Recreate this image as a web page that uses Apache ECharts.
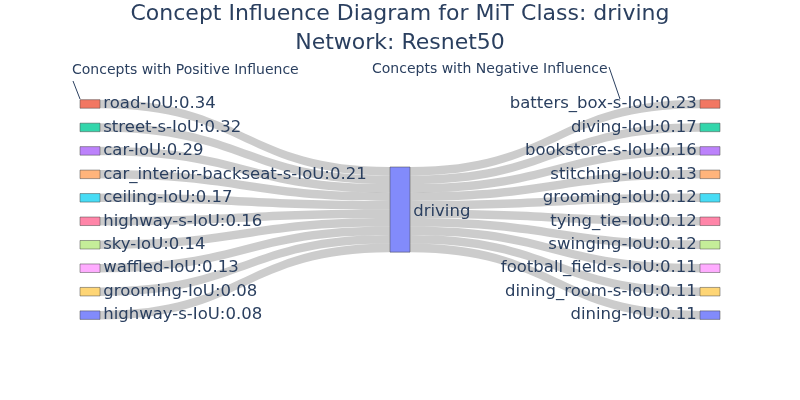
<!DOCTYPE html>
<html>
<head>
<meta charset="utf-8">
<script src="https://cdn.jsdelivr.net/npm/echarts@6/dist/echarts.min.js"></script>
<style>
  html, body { margin: 0; padding: 0; background: #fff; }
  #main { width: 800px; height: 400px; }
</style>
</head>
<body>
<div id="main"></div>
<script>
const myChart = echarts.init(document.querySelector('#main'))

// data
const className = 'driving'
const posConcepts = ['road-IoU:0.34', 'street-s-IoU:0.32', 'car-IoU:0.29', 'car_interior-backseat-s-IoU:0.21',
  'ceiling-IoU:0.17', 'highway-s-IoU:0.16', 'sky-IoU:0.14', 'waffled-IoU:0.13', 'grooming-IoU:0.08', 'highway-s-IoU:0.08']
const posWeights = [1, 1, 1, 1, 1, 1, 1, 1, 1, 1]
const negConcepts = ['batters_box-s-IoU:0.23', 'diving-IoU:0.17', 'bookstore-s-IoU:0.16', 'stitching-IoU:0.13',
  'grooming-IoU:0.12', 'tying_tie-IoU:0.12', 'swinging-IoU:0.12', 'football_field-s-IoU:0.11', 'dining_room-s-IoU:0.11', 'dining-IoU:0.11']
const negWeights = [1, 1, 1, 1, 1, 1, 1, 1, 1, 1]

const palette = ['rgba(239,85,59,0.8)', 'rgba(0,204,150,0.8)', 'rgba(171,99,250,0.8)', 'rgba(255,161,90,0.8)',
  'rgba(25,211,243,0.8)', 'rgba(255,102,146,0.8)', 'rgba(182,232,128,0.8)', 'rgba(255,151,255,0.8)',
  'rgba(254,203,82,0.8)', 'rgba(99,110,250,0.8)']
const fontFam = '"DejaVu Sans", Verdana, sans-serif'
const txt = '#2a3f5f'

const nodes = []
const links = []
posConcepts.forEach((name, i) => {
  nodes.push({ name: name, depth: 0, itemStyle: { color: palette[i % 10] },
    label: { position: 'right' } })
  links.push({ source: name, target: className, value: posWeights[i] })
})
nodes.push({ name: className, depth: 1, itemStyle: { color: 'rgba(99,110,250,0.8)' },
  label: { position: 'right', offset: [0, 2] } })
negConcepts.forEach((name, i) => {
  nodes.push({ name: name, depth: 2, itemStyle: { color: palette[i % 10] },
    label: { position: 'left' } })
  links.push({ source: className, target: name, value: negWeights[i] })
})

let option = {
  animation: false,
  title: {
    text: 'Concept Influence Diagram for MiT Class: driving\nNetwork: Resnet50',
    left: 'center',
    top: -5,
    textStyle: { fontFamily: fontFam, fontSize: 22, fontWeight: 'normal', color: txt, lineHeight: 29 }
  },
  graphic: [
    { type: 'text', left: 72, top: 63,
      style: { text: 'Concepts with Positive Influence', font: '14px ' + fontFam, fill: txt } },
    { type: 'line', shape: { x1: 73, y1: 81, x2: 80, y2: 99 }, style: { stroke: txt, lineWidth: 1 } },
    { type: 'text', left: 372, top: 62,
      style: { text: 'Concepts with Negative Influence', font: '14px ' + fontFam, fill: txt } },
    { type: 'line', shape: { x1: 609, y1: 67, x2: 620, y2: 99 }, style: { stroke: txt, lineWidth: 1 } }
  ],
  series: [
    {
      type: 'sankey',
      left: 80,
      right: 80,
      top: 99.7,
      bottom: 80.6,
      nodeWidth: 20,
      nodeGap: 14.95,
      nodeAlign: 'justify',
      draggable: false,
      emphasis: { disabled: true },
      data: nodes,
      links: links,
      itemStyle: { borderColor: '#444', borderWidth: 0.5 },
      lineStyle: { color: '#000', opacity: 0.2, curveness: 0.5 },
      label: { fontFamily: fontFam, fontSize: 16.5, color: txt, distance: 3 }
    }
  ]
};
option && myChart.setOption(option);
</script>
</body>
</html>
